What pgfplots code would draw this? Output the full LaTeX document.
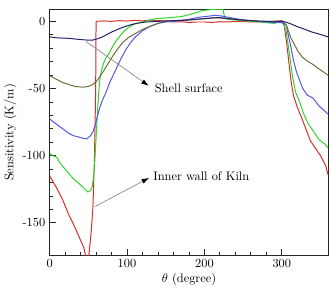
\documentclass[border=0pt]{standalone}
\usepackage{pgfplots}
\pgfplotsset{compat=1.18}
\usetikzlibrary{arrows.meta}
\definecolor{cred}{RGB}{215,45,45}
\definecolor{cgreen}{RGB}{45,215,45}
\definecolor{cblue}{RGB}{85,85,230}
\definecolor{colive}{RGB}{110,110,60}
\definecolor{cnavy}{RGB}{35,35,105}
\begin{document}
\begin{tikzpicture}
\begin{axis}[
  scale only axis,
  width=225pt, height=198pt,
  xmin=0, xmax=360, ymin=-174, ymax=8.5,
  xtick={0,100,200,300}, ytick={0,-50,-100,-150},
  minor x tick num=4, minor y tick num=4,
  xtick pos=left, ytick pos=left,
  tick align=inside,
  /pgf/number format/assume math mode=true,
  axis line style={line width=0.8pt, black!85},
  major tick length=5pt, minor tick length=2.5pt,
  every tick/.style={black!85, line width=0.7pt},
  xlabel={$\theta$ (degree)}, ylabel={Sensitivity (K/m)},
  xlabel style={yshift=3pt}, ylabel style={yshift=-2pt},
  every axis plot/.append style={line width=0.8pt, no marks},
]
\addplot[cred] coordinates {(0,-115) (4,-119) (10,-125) (17,-133) (24,-143) (30,-150) (34,-155) (40,-163) (44,-168) (48,-178) (51,-173) (54,-155) (56,-138) (58,-100) (59.5,-50) (60,0) (70,0.3) (80,0) (90,0.5) (100,0.2) (110,0.8) (120,0.3) (130,1) (140,0.5) (150,0.3) (160,-0.5) (170,-0.3) (180,-0.8) (190,-0.5) (200,-0.5) (210,-0.8) (220,-0.3) (230,-0.5) (240,0) (250,0) (260,-0.5) (270,-0.3) (280,-0.3) (290,0) (300,0.5) (303,-3) (306,-15) (309,-30) (312,-45) (315,-55) (320,-64) (325,-71) (331,-80) (337,-89) (344,-95) (350,-100) (357,-108) (359.5,-114)};
\addplot[cgreen] coordinates {(0,-98) (4,-100) (9,-101) (14,-106) (20,-110) (26,-114) (32,-118) (38.7,-121) (44,-124) (49.4,-127) (53,-126) (55,-123) (57,-115) (58,-108) (59,-97) (60,-87) (62,-65) (64.4,-46) (66,-39) (68.6,-33) (72,-28) (77,-23.7) (83,-17) (90,-11.5) (96,-7.5) (102.8,-4.2) (110,-2) (120,-0.5) (130,1) (137,2) (150,2.5) (160,3) (170,3.5) (180,5) (190,6.5) (197,8) (205,8.5) (215,9) (224,9) (226,3) (230,1.5) (240,1) (250,0.5) (260,0) (270,-0.5) (280,-1) (290,-1.5) (300,0) (303,-3) (305.8,-8) (310,-25) (314,-42) (318,-53) (323,-60) (329,-70) (335,-77) (341,-82) (348,-88) (355,-91) (359.5,-94)};
\addplot[cblue] coordinates {(0,-72.5) (5,-75) (10,-77) (17,-80) (24,-83) (30,-85) (37,-86) (43,-87) (48,-87.5) (53,-85) (56,-82) (58,-79) (60,-75) (62,-70) (64.4,-65) (68,-59) (72.8,-53) (78,-45) (85.6,-36) (92,-28) (98.5,-21) (105,-15.5) (111,-11.5) (120,-7) (128.5,-4.2) (140,-1.5) (150,-0.5) (160,0) (170,0.5) (180,1.5) (192.5,3) (200,3.5) (213.5,4.4) (222,4) (231,3) (240,2) (250,1) (260,0.5) (270,0) (280,-0.5) (290,-1) (300,-1) (303,-2) (305.8,-3) (309,-12) (312,-20) (315,-29) (318.6,-37) (323,-44) (327,-50) (333,-55) (340,-57) (348,-63) (354,-66) (359.5,-69)};
\addplot[colive] coordinates {(0,-40.5) (5,-42) (10,-43.5) (17,-45.6) (25,-47) (33,-48.5) (43,-49) (50,-48.5) (55.8,-47) (60,-45) (64,-42) (68.6,-38) (75,-32) (81.4,-26) (88,-20.5) (94,-16) (102,-12) (111,-9) (120,-6) (132.7,-3) (140,-1.5) (150,0) (160,0.5) (170,0.8) (180,1) (190,1.5) (200,2) (210,2.5) (220,2.5) (230,2) (240,1.5) (250,1) (260,0.5) (270,0) (280,0) (290,-0.5) (300,0) (303,-1) (306,-3) (309,-8) (312,-12.7) (316,-17) (321,-22.5) (327,-27) (334,-30) (340,-32) (346,-34.6) (352,-37) (359.5,-40)};
\addplot[cnavy] coordinates {(0,-11.5) (5,-12) (10,-12.3) (18,-12.5) (26,-12.7) (35,-13.3) (45,-13.8) (50,-14) (55.8,-13.9) (62,-13) (68.6,-11.5) (75,-9.5) (80,-8) (85.6,-6.6) (92,-5) (98,-3.8) (102.8,-2.9) (112,-1.5) (124,-0.5) (140,0) (160,0.5) (180,1) (200,2) (210,2.5) (220,2.8) (230,2) (240,1.5) (250,1) (260,0.5) (280,0) (300,0) (305,-0.5) (312,-2) (321,-4.2) (330,-6) (338,-7.8) (347,-9.3) (355,-10.7) (359.5,-11.5)};
\draw[gray, line width=0.5pt, -{Latex[black,length=6pt,width=4pt]}] (axis cs:47,-15) -- (axis cs:128,-48);
\node[anchor=west, inner sep=1pt] at (axis cs:134,-49.5) {Shell surface};
\draw[gray, line width=0.5pt, -{Latex[black,length=6pt,width=4pt]}] (axis cs:58,-138) -- (axis cs:128.5,-116.5);
\node[anchor=west, inner sep=1pt] at (axis cs:132,-115) {Inner wall of Kiln};
\end{axis}
\path (current axis.north east) ++(3pt,8pt);
\path (current axis.south west) ++(0,-22pt);
\end{tikzpicture}
\end{document}
